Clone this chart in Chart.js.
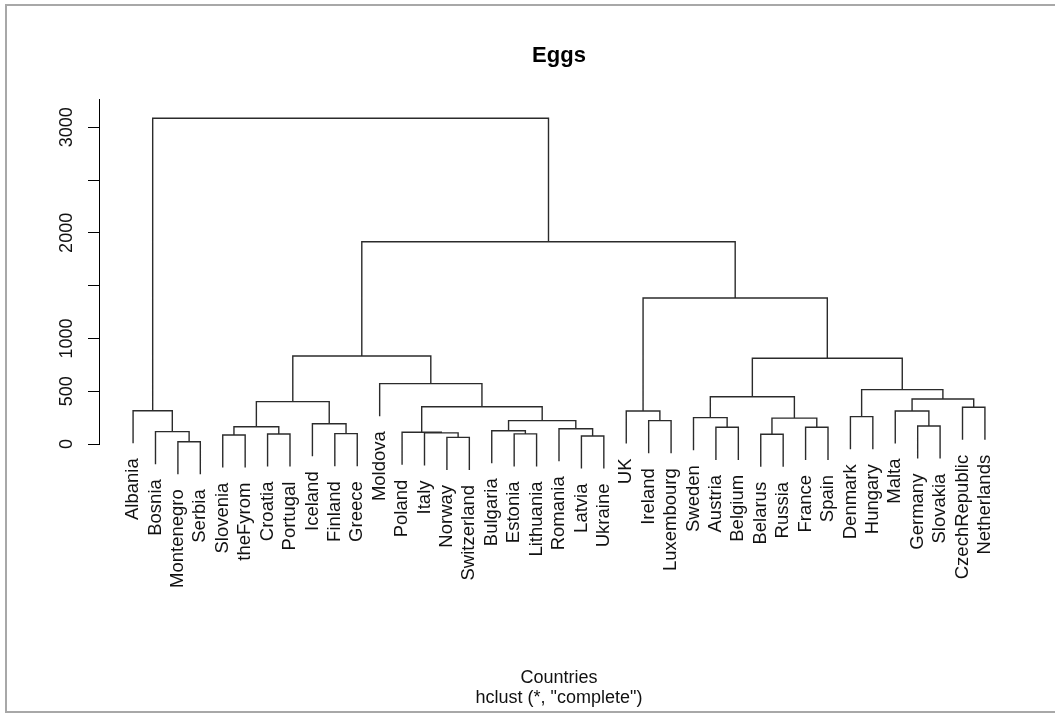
<!DOCTYPE html>
<html>
<head>
<meta charset="utf-8">
<title>Eggs</title>
<script src="https://cdn.jsdelivr.net/npm/chart.js@4.4.0/dist/chart.umd.min.js"></script>
<style>
  html, body { margin: 0; padding: 0; background: #fff; overflow: hidden; }
  #frame { position: absolute; left: 5px; top: 4px; width: 1200px; height: 709px;
           box-sizing: border-box; border: 2px solid #a8a8a8; }
  #wrap { position: absolute; left: 0; top: 0; width: 1055px; height: 715px; }
</style>
</head>
<body>
<div id="frame"></div>
<div id="wrap"><canvas id="dendro" width="1055" height="715"></canvas></div>
<script>
// leaf order as drawn, left to right
const countries = [
  'Albania', 'Bosnia', 'Montenegro', 'Serbia', 'Slovenia', 'theFyrom', 'Croatia',
  'Portugal', 'Iceland', 'Finland', 'Greece', 'Moldova', 'Poland', 'Italy', 'Norway',
  'Switzerland', 'Bulgaria', 'Estonia', 'Lithuania', 'Romania', 'Latvia', 'Ukraine',
  'UK', 'Ireland', 'Luxembourg', 'Sweden', 'Austria', 'Belgium', 'Belarus', 'Russia',
  'France', 'Spain', 'Denmark', 'Hungary', 'Malta', 'Germany', 'Slovakia',
  'CzechRepublic', 'Netherlands'
];

// hclust style merges: negative = leaf (position in countries), positive = earlier merge row
const mergeLeft = [
  -3, -15, -21, -5, -29, -7, -18, -10, -14, -13,
  -2, -17, -20, -27, -31, 4, -36, -9, 12, -24,
  5, -26, -33, -35, -23, -1, -38, 10, 16, 24,
  22, 23, -12, 31, 29, 25, 35, 26
];
const mergeRight = [
  -4, -16, -22, -6, -30, -8, -19, -11, 2, 9,
  1, 7, 3, -28, -32, 6, -37, 8, 13, -25,
  15, 14, -34, 17, 20, 11, -39, 19, 18, 27,
  21, 30, 28, 32, 33, 34, 36, 37
];
const mergeHeight = [
  22, 63, 76, 85, 92, 95, 96, 98, 105, 112,
  117, 126, 145, 158, 158, 164, 170, 192, 221, 221,
  245, 250, 259, 313, 313, 315, 348, 353, 401, 426,
  448, 515, 572, 812, 834, 1383, 1916, 3085
];

const yTicks = [0, 500, 1000, 1500, 2000, 2500, 3000];
const yTickLabels = ['0', '500', '1000', '', '2000', '', '3000'];

const FONT = "'Liberation Sans', Arial, sans-serif";

// build the U-shaped segments from the merge table
const hang = 0.1 * Math.max(...mergeHeight);
const nodeX = [];
const leafBottom = [];
const segs = [];

function childX(c) { return c < 0 ? -c : nodeX[c - 1]; }
function childY(c, h) {
  if (c < 0) { leafBottom[-c - 1] = h - hang; return h - hang; }
  return mergeHeight[c - 1];
}

mergeHeight.forEach((h, i) => {
  const l = mergeLeft[i], r = mergeRight[i];
  const xl = childX(l), xr = childX(r);
  nodeX[i] = (xl + xr) / 2;
  segs.push({x: xl, y: childY(l, h)}, {x: xl, y: h}, {x: xr, y: h}, {x: xr, y: childY(r, h)});
  segs.push({x: xr, y: null}); // break the line
});

// leaf labels hang below each leaf
const leafLabels = {
  id: 'leafLabels',
  afterDraw(chart) {
    const {ctx, scales} = chart;
    ctx.save();
    ctx.font = '18.5px ' + FONT;
    ctx.fillStyle = '#111';
    ctx.textAlign = 'right';
    ctx.textBaseline = 'middle';
    countries.forEach((name, i) => {
      const x = scales.x.getPixelForValue(i + 1);
      const y = scales.y.getPixelForValue(leafBottom[i]) + 15;
      ctx.save();
      ctx.translate(x, y);
      ctx.rotate(-Math.PI / 2);
      ctx.fillText(name, 0, 0);
      ctx.restore();
    });
    ctx.restore();
  }
};

const n = countries.length;
const pad = 0.04 * (n - 1);

new Chart(document.getElementById('dendro'), {
  type: 'line',
  data: {
    datasets: [{
      data: segs,
      borderColor: '#2b2b2b',
      borderWidth: 1.4,
      pointRadius: 0,
      tension: 0,
      fill: false,
      spanGaps: false,
      clip: false
    }]
  },
  options: {
    responsive: false,
    animation: false,
    events: [],
    layout: { padding: { left: 39, right: 36, top: 0, bottom: 0 } },
    plugins: {
      legend: { display: false },
      tooltip: { enabled: false },
      title: {
        display: true,
        fullSize: false,
        text: 'Eggs',
        color: '#000',
        font: { family: FONT, size: 22, weight: 'bold' },
        padding: { top: 43, bottom: 29.6 }
      },
      subtitle: {
        display: true,
        fullSize: false,
        position: 'bottom',
        text: ['Countries', 'hclust (*, "complete")'],
        color: '#111',
        font: { family: FONT, size: 18, lineHeight: 20 / 18 },
        padding: { top: 224, bottom: 7 }
      }
    },
    scales: {
      x: {
        type: 'linear',
        display: false,
        min: 1 - pad,
        max: n + pad
      },
      y: {
        min: 0,
        max: 3268,
        afterFit: s => { s.width = 60; },
        afterBuildTicks: s => { s.ticks = yTicks.map(v => ({value: v})); },
        border: { display: true, color: '#000', width: 1 },
        grid: { drawOnChartArea: false, drawTicks: true, tickLength: 11, color: '#000' },
        ticks: {
          autoSkip: false,
          minRotation: 90,
          maxRotation: 90,
          crossAlign: 'center',
          padding: 1,
          color: '#111',
          font: { family: FONT, size: 18 },
          callback: (v, i) => yTickLabels[i]
        }
      }
    }
  },
  plugins: [leafLabels]
});
</script>
</body>
</html>
